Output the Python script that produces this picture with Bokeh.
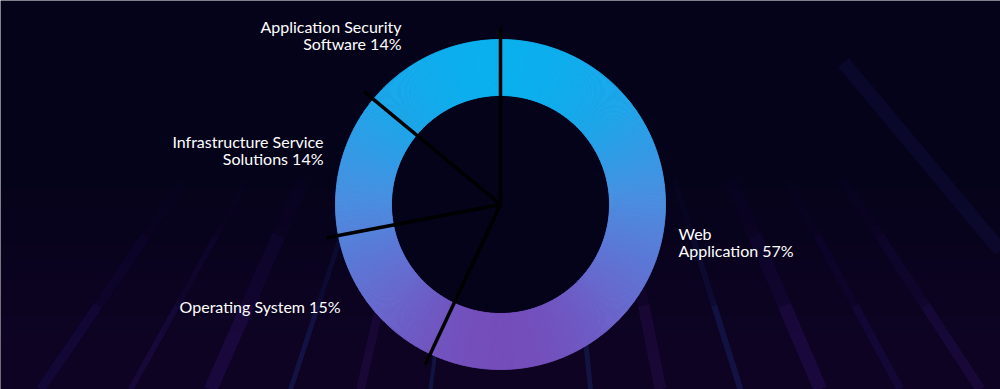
import numpy as np
from bokeh.plotting import figure
from bokeh.models import ColumnDataSource
from bokeh.core.properties import value
from bokeh.embed import file_html
from bokeh.resources import INLINE

# ---- data ----
categories = ["Web Application", "Operating System",
              "Infrastructure Service Solutions", "Application Security Software"]
shares = [57, 15, 14, 14]
label_texts = ["Web\nApplication 57%", "Operating System 15%",
               "Infrastructure Service\nSolutions 14%", "Application Security\nSoftware 14%"]

# ---- layout / style ----
W, H = 1000, 389
CX, CY = 500, 185
R_OUT, R_IN = 165, 109
SEP_LEN = 177
BG = "#05031a"
LINE_GAP = 17

label_x = [678, 340, 323, 401]
label_top_y = [156, 83, 248, 363]   # y of first line (data units, y up)
label_align = ["left", "right", "right", "right"]

stops_t = [0.0, 0.23, 0.48, 0.77, 1.0]
stops_c = np.array([(0, 182, 241), (30, 168, 236), (74, 144, 226),
                    (106, 106, 208), (124, 62, 176)], dtype=float)


def grad(t):
    rgb = [np.interp(t, stops_t, stops_c[:, k]) for k in range(3)]
    return "#%02x%02x%02x" % tuple(int(round(v)) for v in rgb)


p = figure(width=W, height=H, x_range=(0, W), y_range=(0, H),
           output_backend="svg", toolbar_location=None, min_border=0)
p.axis.visible = False
p.grid.visible = False
p.outline_line_color = None
p.background_fill_color = BG
p.border_fill_color = BG

# subtle background: purple haze toward the bottom and slanted light streaks
for k in range(10):
    p.quad(left=0, right=W, bottom=0, top=200 - k * 18,
           fill_color="#1a0a3a", fill_alpha=0.06, line_color=None)
vx, vy = 520, 700
streak_x0 = [40, 130, 210, 290, 360, 430, 590, 660, 740, 820, 900, 980]
streak_w = [10, 6, 14, 5, 9, 4, 5, 12, 6, 14, 8, 10]
streak_c = ["#1c1050", "#24125a", "#2a1160", "#1a2a70", "#2b1050", "#16306a",
            "#16306a", "#2a1050", "#1a2a70", "#2a1160", "#1c1050", "#24125a"]
for x0, w, c in zip(streak_x0, streak_w, streak_c):
    for f, a in [(0.12, 0.25), (0.22, 0.15), (0.30, 0.08)]:
        p.segment(x0=x0, y0=0, x1=x0 + (vx - x0) * f, y1=vy * f,
                  line_color=c, line_alpha=a, line_width=w)
p.segment(x0=843, y0=327, x1=1000, y1=139, line_color="#141450",
          line_alpha=0.3, line_width=14)

# donut slices subdivided for vertical gradient
fr = np.array(shares, dtype=float) / sum(shares)
ends = np.cumsum(fr) * 2 * np.pi
starts = ends - fr * 2 * np.pi

ws, we, wc, wn = [], [], [], []
step = np.deg2rad(0.5)
for name, s, e in zip(categories, starts, ends):
    n = max(2, int(np.ceil((e - s) / step)))
    th = np.linspace(s, e, n + 1)
    for a, b in zip(th[:-1], th[1:]):
        m = 0.5 * (a + b)
        yc = CY + 0.5 * (R_OUT + R_IN) * np.cos(m)
        t = (CY + R_OUT - yc) / (2 * R_OUT)
        ws.append(np.pi / 2 - b)
        we.append(np.pi / 2 - a)
        wc.append(grad(t))
        wn.append(name)

src = ColumnDataSource(dict(start=ws, end=we, color=wc, name=wn))
p.annular_wedge(x=CX, y=CY, inner_radius=R_IN, outer_radius=R_OUT,
                start_angle="start", end_angle="end", direction="anticlock",
                fill_color="color", line_color="color", line_width=1,
                source=src)

# hole background
p.circle(x=CX, y=CY, radius=R_IN - 1, fill_color="#05031a", line_color=None)

# separators
sx1 = [CX + SEP_LEN * np.sin(a) for a in starts]
sy1 = [CY + SEP_LEN * np.cos(a) for a in starts]
p.segment(x0=[CX] * len(starts), y0=[CY] * len(starts), x1=sx1, y1=sy1,
          line_color="#000000", line_width=3.5)

# labels (one text per line for exact alignment)
tx, ty, tt, ta = [], [], [], []
for txt, x, y0, al in zip(label_texts, label_x, label_top_y, label_align):
    for i, line in enumerate(txt.split("\n")):
        tx.append(x)
        ty.append(y0 - i * LINE_GAP)
        tt.append(line)
        ta.append(al)
p.text(x=tx, y=ty, text=tt, text_align=ta, text_baseline="middle",
       text_color="#ffffff", text_font=value("Lato"), text_font_size="16px")

open("out.html", "w").write(file_html(p, INLINE))
